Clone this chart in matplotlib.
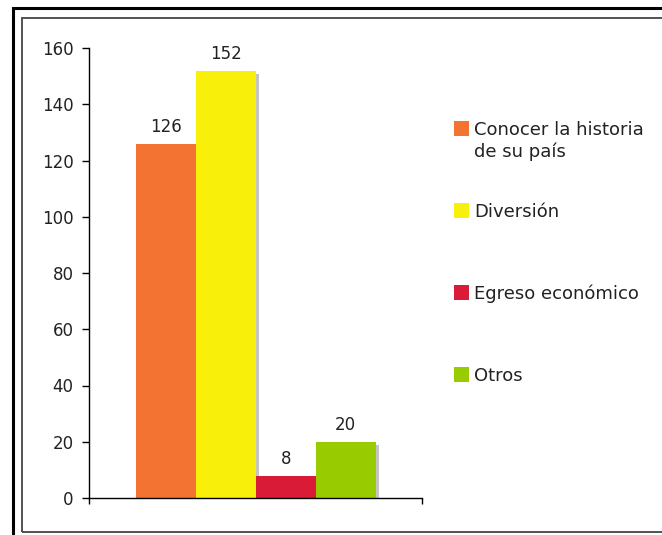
import matplotlib
matplotlib.use("Agg")
import matplotlib.pyplot as plt
from matplotlib.patches import Rectangle
import matplotlib.patheffects as pe

categories = ["Conocer la historia\nde su país", "Diversión", "Egreso económico", "Otros"]
values = [126, 152, 8, 20]
colors = ["#F37332", "#F8F00A", "#D91B37", "#99CC00"]
yticks = [0, 20, 40, 60, 80, 100, 120, 140, 160]

W, H = 662, 535
fig = plt.figure(figsize=(W / 100, H / 100), dpi=100)
plt.rcParams['font.family'] = ['DejaVu Sans']

ax = fig.add_axes([89 / W, 1 - 498 / H, (422 - 89) / W, (498 - 48) / H])

shadow = [pe.SimplePatchShadow(offset=(2.6, -2.6), shadow_rgbFace="#c4c4c4", alpha=1.0), pe.Normal()]
for i, (v, c) in enumerate(zip(values, colors)):
    b = ax.bar(i, v, width=1.0, color=c, edgecolor="none", zorder=2)
    for p in b.patches:
        p.set_path_effects(shadow)
    ax.annotate(str(v), (i, v), xytext=(0, 8.6), textcoords="offset points",
                ha="center", va="baseline", fontsize=12, color="#222222")

ax.set_ylim(0, 160)
ax.set_xlim(-1.28, 4.27)
ax.set_yticks(yticks)
ax.set_yticklabels([str(t) for t in yticks])
ax.set_xticks([-1.28, 4.27])
ax.set_xticklabels(["", ""])
ax.tick_params(axis="y", direction="out", length=5, width=1, pad=6, labelsize=12, labelcolor="#222222")
ax.tick_params(axis="x", direction="out", length=4, width=1)
for s in ["top", "right"]:
    ax.spines[s].set_visible(False)
for s in ["left", "bottom"]:
    ax.spines[s].set_linewidth(1)
    ax.spines[s].set_color("black")

# legend drawn manually
y0 = 121
step = 82
for k, (lab, c) in enumerate(zip(categories, colors)):
    top = y0 + k * step
    fig.add_artist(Rectangle((454 / W, 1 - (top + 15) / H), 15 / W, 15 / H,
                             transform=fig.transFigure, facecolor=c, edgecolor="none"))
    for j, line in enumerate(lab.split("\n")):
        fig.text(474 / W, 1 - (top + 14 + 22 * j) / H, line, ha="left", va="baseline",
                 fontsize=13, color="#222222")

# frame
fig.add_artist(Rectangle((13 / W, -0.1), 2, 1 - 8.5 / H + 0.1, transform=fig.transFigure,
                         fill=False, edgecolor="black", linewidth=2.2))
fig.add_artist(Rectangle((21.5 / W, 1 - 532 / H), 2, (532 - 17.5) / H, transform=fig.transFigure,
                         fill=False, edgecolor="#444444", linewidth=1.3))

fig.savefig("out.png", dpi=100)
